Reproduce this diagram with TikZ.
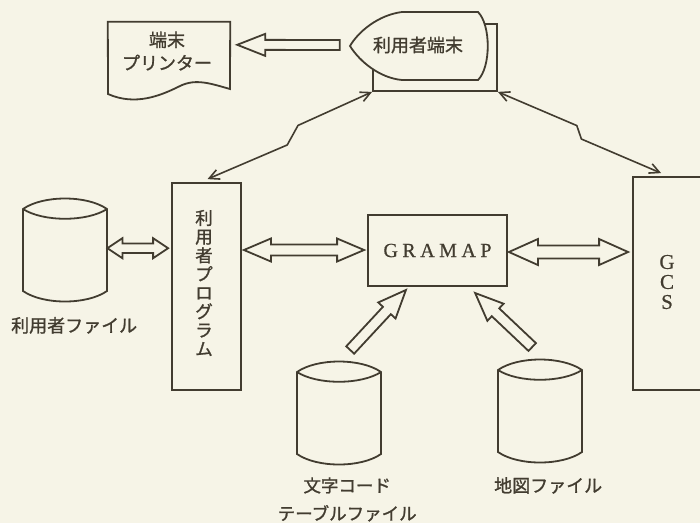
\documentclass[tikz,border=0pt]{standalone}
\usepackage{fontspec}
\setmainfont{Liberation Serif}[FakeBold=0.6]
\newfontfamily\jp{Noto Sans CJK JP}[FakeBold=1.2]
\usetikzlibrary{calc,arrows.meta}
\definecolor{bg}{RGB}{246,244,231}
\definecolor{ink}{RGB}{66,60,48}
\tikzset{
  base/.style={line width=1.8pt, draw=ink, line join=miter},
  box/.style={base, rectangle, fill=bg, inner sep=0pt},
  ghost/.style={rectangle, inner sep=0pt, draw=none},
  hol/.style={base, fill=bg},
  bolt/.style={base, line width=1.6pt, line join=miter, {Straight Barb[length=10pt,width=10pt]}-{Straight Barb[length=10pt,width=10pt]}},
  jptext/.style={text=ink, font=\jp\fontsize{18pt}{22pt}\selectfont},
  cyl/.pic={
    \draw[base,fill=bg] (0,0) .. controls (20,14) and (64,14) .. (84,0) -- (84,-82)
      .. controls (64,-96) and (20,-96) .. (0,-82) -- cycle;
    \draw[base] (0,0) .. controls (20,-13) and (64,-13) .. (84,0);
  }
}
% hollow arrow: from, to, shaft half width, head half width, head length, double(1)/single(0)
\newcommand\hollowarrow[6]{%
  \path let \p1=($(#2)-(#1)$) in \pgfextra{%
    \pgfmathsetmacro\haang{atan2(\y1,\x1)}%
    \pgfmathsetmacro\halen{veclen(\x1,\y1)}%
    \global\let\haang\haang\global\let\halen\halen};
  \begin{scope}[shift={(#1)},rotate=\haang]
    \ifnum#6=1
      \draw[hol] (0,0) -- (#5,#4) -- (#5,#3) -- (\halen-#5,#3) -- (\halen-#5,#4) -- (\halen,0)
        -- (\halen-#5,-#4) -- (\halen-#5,-#3) -- (#5,-#3) -- (#5,-#4) -- cycle;
    \else
      \draw[hol] (0,#3) -- (\halen-#5,#3) -- (\halen-#5,#4) -- (\halen,0)
        -- (\halen-#5,-#4) -- (\halen-#5,-#3) -- (0,-#3) -- cycle;
    \fi
  \end{scope}}
\begin{document}
\begin{tikzpicture}[x=1pt,y=1pt]
\useasboundingbox (0,0) rectangle (700,-523);
\clip (0,0) rectangle (700,-523);
\fill[bg] (0,0) rectangle (700,-523);

% terminal printer
\node[ghost, minimum width=122pt, minimum height=71pt] (prn) at (169,-57.5) {};
\draw[base,fill=bg] (prn.north west) -- (prn.north east) -- (230,-89)
  .. controls (212,-84) and (196,-78) .. (180,-86)
  .. controls (160,-96) and (135,-106) .. (108,-94) -- cycle;
\node[jptext, align=center, font=\jp\fontsize{18pt}{23pt}\selectfont] (prntxt) at (167,-51) {端末\\プリンター};

% user terminal
\node[box, minimum width=124pt, minimum height=67pt] (termbox) at (435,-57.5) {};
\node[ghost, minimum width=138pt, minimum height=68pt] (term) at (419,-46) {};
\draw[base,fill=bg] (402,-12) -- (478,-12) .. controls (491,-25) and (491,-67) .. (478,-80)
  -- (402,-80) .. controls (380,-78) and (360,-62) .. (350,-46)
  .. controls (358,-32) and (378,-15) .. (402,-12) -- cycle;
\node[jptext] (termtxt) at (418,-45) {利用者端末};

% user file
\node[ghost, minimum width=84pt, minimum height=82pt, anchor=north west] (uf) at (23,-209) {};
\pic at (uf.north west) {cyl};
\node[jptext] (uftxt) at ($(uf.south)+(9,-34)$) {利用者ファイル};

% user program
\node[box, minimum width=69pt, minimum height=207pt] (prog) at (206.5,-286.5) {};
\node[jptext, align=center, font=\jp\fontsize{17.5pt}{18.7pt}\selectfont] (progtxt) at (204,-283)
  {利\\用\\者\\プ\\ロ\\グ\\ラ\\ム};

% GRAMAP
\node[box, minimum width=139pt, minimum height=71pt, text=ink,
  font=\fontsize{20pt}{24pt}\selectfont] (gm) at (437.5,-250.5)
  {G\hspace{4.5pt}R\hspace{4.5pt}A\hspace{4.5pt}M\hspace{4.5pt}A\hspace{4.5pt}P};

% GCS
\node[box, minimum width=68pt, minimum height=213pt] (gcs) at (667,-283.5) {};
\node[text=ink, align=center, font=\fontsize{21pt}{20pt}\selectfont] (gcstxt) at (667,-282) {G\\C\\S};

% text code table file
\node[ghost, minimum width=84pt, minimum height=82pt, anchor=north west] (tc) at (297,-372) {};
\pic at (tc.north west) {cyl};
\node[jptext, align=center, font=\jp\fontsize{17.5pt}{28pt}\selectfont] (tctxt) at ($(tc.south)+(8,-45)$)
  {文字コード\\テーブルファイル};

% map file
\node[ghost, minimum width=84pt, minimum height=82pt, anchor=north west] (mp) at (498,-370) {};
\pic at (mp.north west) {cyl};
\node[jptext] (mptxt) at ($(mp.south)+(8,-33)$) {地図ファイル};

% connector end points
\coordinate (pa1) at ($(term.west)+(-10,1)$);
\coordinate (pa2) at ($(prn.north east)+(7,-23)$);
\coordinate (f1) at ($(uf.east)+(0,2)$);
\coordinate (f2) at ($(f1 -| prog.west)+(-3,0)$);
\coordinate (g1) at ($(gm.west)+(-3,0.5)$);
\coordinate (g0) at ($(g1 -| prog.east)+(2,0)$);
\coordinate (h1) at ($(gm.east)+(1,-1.5)$);
\coordinate (h2) at ($(h1 -| gcs.west)+(-4,0)$);
\coordinate (t1) at ($(tc.north)+(11,22)$);
\coordinate (t2) at ($(gm.south)+(-31.5,-3)$);
\coordinate (m1) at ($(mp.north)+(-8,23)$);
\coordinate (m2) at ($(gm.south)+(37.5,-6)$);
\coordinate (gcsend) at ($(gcs.north west)+(29,3)$);

% hollow arrows
\hollowarrow{pa1}{pa2}{5}{11}{28}{0}
\hollowarrow{f1}{f2}{4.7}{10}{15}{1}
\hollowarrow{g0}{g1}{5.5}{11.5}{27}{1}
\hollowarrow{h1}{h2}{6.5}{13}{29}{1}
\hollowarrow{t1}{t2}{5.4}{11.8}{28}{0}
\hollowarrow{m1}{m2}{5.4}{11.8}{28}{0}

% lightning links
\draw[bolt] (termbox.south west)
  -- ($(termbox.south west)!0.43!(prog.north)!6pt!-90:(prog.north)$)
  -- ($(termbox.south west)!0.53!(prog.north)!6pt!90:(prog.north)$)
  -- ($(prog.north)+(1,3)$);
\draw[bolt] (termbox.south east)
  -- ($(termbox.south east)!0.47!(gcsend)!5pt!90:(gcsend)$)
  -- ($(termbox.south east)!0.525!(gcsend)!5pt!-90:(gcsend)$)
  -- (gcsend);
\end{tikzpicture}
\end{document}
